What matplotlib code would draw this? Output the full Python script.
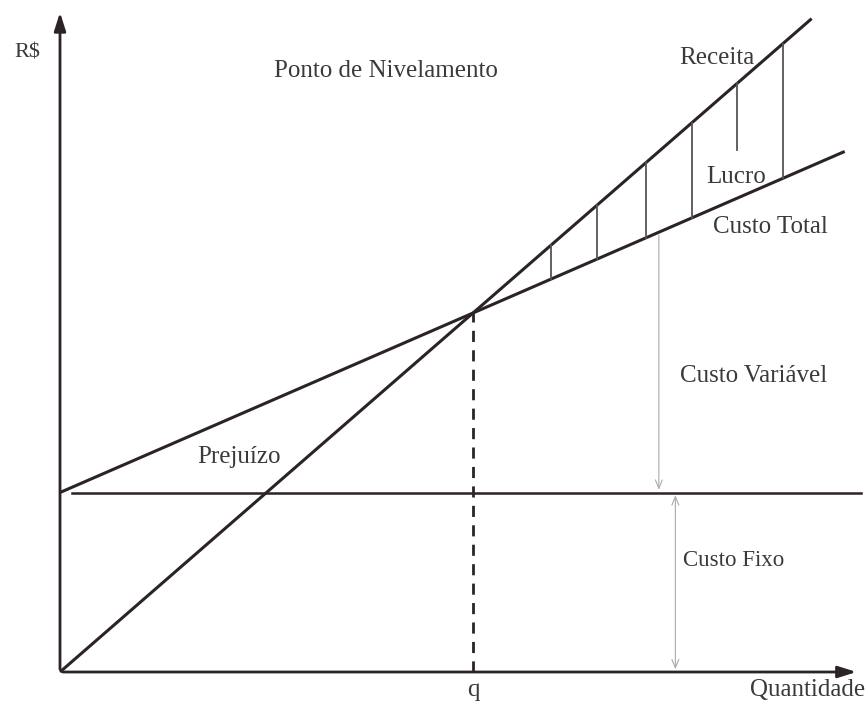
import matplotlib.pyplot as plt

# break-even data
fixed_cost = 100
price = 20
unit_var_cost = 10
q_break = fixed_cost / (price - unit_var_cost)

q_receita = [0, 18.2]
q_custo = [0, 19.0]
q_fixo = [0.3, 19.4]
q_lucro = [11.9, 13.0, 14.2, 15.3, 16.4, 17.5]
lucro_short_bottom = 291  # the line that stops above "Lucro"
q_arrow_var = 14.5
q_arrow_fixo = 14.9

receita = [price * q for q in q_receita]
custo_total = [fixed_cost + unit_var_cost * q for q in q_custo]

plt.rcParams['font.family'] = ['Liberation Serif', 'DejaVu Serif']

fig = plt.figure(figsize=(8.65, 7.04), dpi=100)
ax = fig.add_axes([0, 0, 1, 1])
ax.set_xlim(-60 / 41.3, 805 / 41.3)
ax.set_ylim(-32 / 1.795, 672 / 1.795)
ax.axis('off')

dark = '#2b2326'
txt = '#3a3a3a'

# axes with arrows
ax.annotate('', xy=(19.35, 0), xytext=(0, 0),
            arrowprops=dict(arrowstyle='-|>,head_length=1.1,head_width=0.35', color=dark, lw=2))
ax.annotate('', xy=(0, 369), xytext=(0, 0),
            arrowprops=dict(arrowstyle='-|>,head_length=1.1,head_width=0.35', color=dark, lw=2))

# main lines
ax.plot(q_receita, receita, color=dark, lw=2.2, solid_capstyle='butt')
ax.plot(q_custo, custo_total, color=dark, lw=2.2, solid_capstyle='butt')
ax.plot(q_fixo, [fixed_cost, fixed_cost], color=dark, lw=1.8)

# break-even dashed line
ax.plot([q_break, q_break], [0, price * q_break], color=dark, lw=2, linestyle=(0, (4, 3)))

# lucro hatch lines
for i, q in enumerate(q_lucro):
    top = price * q
    bottom = fixed_cost + unit_var_cost * q
    if i == 4:
        bottom = lucro_short_bottom
    ax.plot([q, q], [bottom, top], color='#555555', lw=1.3)

# cost arrows
ax.annotate('', xy=(q_arrow_var, fixed_cost), xytext=(q_arrow_var, fixed_cost + unit_var_cost * q_arrow_var),
            arrowprops=dict(arrowstyle='->,head_length=0.6,head_width=0.25', color='#aaaaaa', lw=0.8))
ax.annotate('', xy=(q_arrow_fixo, 0), xytext=(q_arrow_fixo, fixed_cost),
            arrowprops=dict(arrowstyle='<->,head_length=0.6,head_width=0.25', color='#aaaaaa', lw=0.8))

# labels
fs = 18
ax.text(-0.8, 345, 'R$', fontsize=16, color=txt, ha='center', va='center')
ax.text(7.9, 335, 'Ponto de Nivelamento', fontsize=fs, color=txt, ha='center', va='center')
ax.text(15.9, 342, 'Receita', fontsize=fs, color=txt, ha='center', va='center')
ax.text(16.37, 276, 'Lucro', fontsize=fs, color=txt, ha='center', va='center')
ax.text(17.2, 248, 'Custo Total', fontsize=fs, color=txt, ha='center', va='center')
ax.text(16.8, 165, 'Custo Variável', fontsize=fs, color=txt, ha='center', va='center')
ax.text(16.3, 62, 'Custo Fixo', fontsize=16.5, color=txt, ha='center', va='center')
ax.text(4.33, 120, 'Prejuízo', fontsize=fs, color=txt, ha='center', va='center')
ax.text(q_break, -10, 'q', fontsize=fs, color=txt, ha='center', va='center')
ax.text(19.5, -10, 'Quantidade', fontsize=fs, color=txt, ha='right', va='center')

fig.savefig('out.png', dpi=100)
